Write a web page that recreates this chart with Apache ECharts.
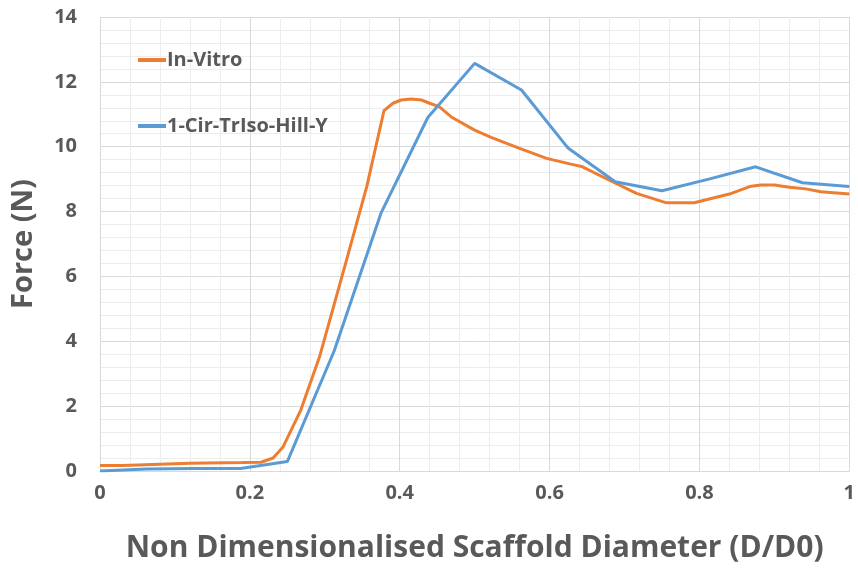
<!DOCTYPE html>
<html><head><meta charset="utf-8">
<script src="https://cdn.jsdelivr.net/npm/echarts@6/dist/echarts.min.js"></script>
<style>html,body{margin:0;padding:0;background:#fff}#c{width:858px;height:574px}</style>
</head><body><div id="c"></div>
<script>
const seriesNames = ['In-Vitro', '1-Cir-TrIso-Hill-Y'];
const inVitroX = [0, 0.03, 0.12, 0.19, 0.215, 0.231, 0.244, 0.268, 0.293, 0.329, 0.356, 0.379, 0.391, 0.402, 0.415, 0.429, 0.44, 0.453, 0.47, 0.5, 0.522, 0.56, 0.596, 0.627, 0.644, 0.684, 0.716, 0.756, 0.793, 0.84, 0.867, 0.882, 0.9, 0.92, 0.942, 0.962, 1.0];
const inVitroY = [0.17, 0.17, 0.24, 0.26, 0.27, 0.4, 0.73, 1.88, 3.52, 6.5, 8.77, 11.11, 11.34, 11.44, 11.47, 11.44, 11.34, 11.23, 10.9, 10.51, 10.29, 9.95, 9.64, 9.47, 9.38, 8.92, 8.56, 8.27, 8.27, 8.54, 8.77, 8.82, 8.82, 8.75, 8.7, 8.61, 8.54];
const modelX = [0, 0.0625, 0.125, 0.1875, 0.25, 0.3125, 0.375, 0.4375, 0.5, 0.5625, 0.625, 0.6875, 0.75, 0.8125, 0.875, 0.9375, 1.0];
const modelY = [0, 0.06, 0.08, 0.08, 0.29, 3.7, 7.95, 10.9, 12.57, 11.75, 9.95, 8.92, 8.64, 9.0, 9.38, 8.89, 8.77];
const xTitle = 'Non Dimensionalised Scaffold Diameter (D/D0)';
const yTitle = 'Force (N)';

const FONT = 'Open Sans';
const TXT = '#595959';
const chart = echarts.init(document.getElementById('c'), null, {renderer: 'canvas'});
chart.setOption({
  animation: false,
  textStyle: {fontFamily: FONT},
  grid: {left: 100, right: 8, top: 17, bottom: 103, containLabel: false},
  legend: {
    orient: 'vertical', left: 133, top: 45, itemGap: 46,
    icon: 'rect', itemWidth: 28, itemHeight: 4,
    textStyle: {fontFamily: FONT, fontWeight: 'bold', fontSize: 20, color: TXT, padding: [0,0,0,-4]},
    data: seriesNames
  },
  xAxis: {
    type: 'value', min: 0, max: 1, interval: 0.2,
    name: xTitle, nameLocation: 'middle', nameGap: 62,
    nameTextStyle: {fontFamily: FONT, fontWeight: 'bold', fontSize: 30, color: TXT},
    axisLine: {show: true, lineStyle: {color: '#d9d9d9', width: 1}},
    axisTick: {show: false},
    axisLabel: {fontFamily: FONT, fontWeight: 'bold', fontSize: 20, color: TXT, margin: 12,
      formatter: v => String(+v.toFixed(1))},
    splitLine: {show: true, lineStyle: {color: '#d9d9d9', width: 1}},
    minorTick: {show: false, splitNumber: 5},
    minorSplitLine: {show: true, lineStyle: {color: '#ededed', width: 1}}
  },
  yAxis: {
    type: 'value', min: 0, max: 14, interval: 2,
    name: yTitle, nameLocation: 'middle', nameGap: 62,
    nameTextStyle: {fontFamily: FONT, fontWeight: 'bold', fontSize: 29, color: TXT},
    axisLine: {show: false}, axisTick: {show: false},
    axisLabel: {fontFamily: FONT, fontWeight: 'bold', fontSize: 20, color: TXT, margin: 23},
    splitLine: {show: true, lineStyle: {color: '#d9d9d9', width: 1}},
    minorTick: {show: false, splitNumber: 5},
    minorSplitLine: {show: true, lineStyle: {color: '#ededed', width: 1}}
  },
  series: [
    {name: seriesNames[0], type: 'line', showSymbol: false, symbol: 'none',
     lineStyle: {color: '#ED7D31', width: 3}, itemStyle: {color: '#ED7D31'},
     data: inVitroX.map((x, i) => [x, inVitroY[i]])},
    {name: seriesNames[1], type: 'line', showSymbol: false, symbol: 'none',
     lineStyle: {color: '#5B9BD5', width: 3}, itemStyle: {color: '#5B9BD5'},
     data: modelX.map((x, i) => [x, modelY[i]])}
  ]
});
</script></body></html>
